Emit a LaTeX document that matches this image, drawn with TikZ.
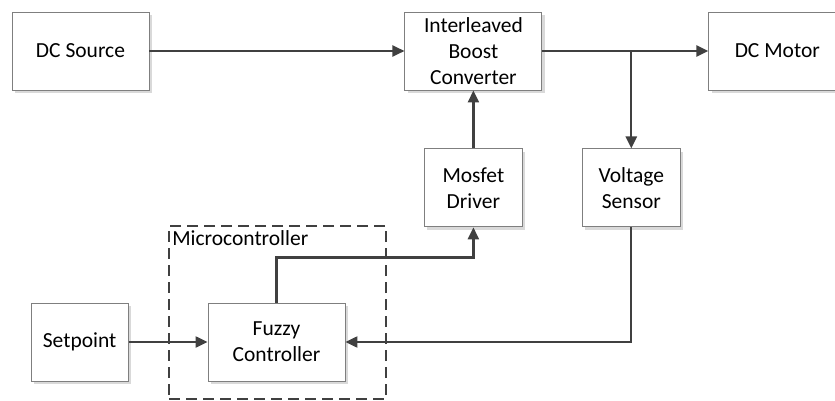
\documentclass[tikz,border=0pt]{standalone}
\usepackage{fontspec}
\setmainfont{Carlito}
\usepackage{tikz}
\usetikzlibrary{arrows.meta,positioning,calc,shadows}
\definecolor{boxline}{HTML}{7F7F7F}
\definecolor{wire}{HTML}{404040}
\definecolor{shade}{HTML}{D9D9D9}

\begin{document}
\begin{tikzpicture}[x=1pt,y=1pt,font=\fontsize{21.5}{26}\selectfont]
    \tikzstyle{blk}=[draw=boxline,line width=0.9pt,fill=white,minimum height=78pt,align=center,inner sep=0pt,
                     drop shadow={shadow xshift=3pt,shadow yshift=-3pt,fill=shade,opacity=1}]
    \tikzstyle{wide}=[blk,minimum width=137pt]
    \tikzstyle{narrow}=[blk,minimum width=98pt]
    \tikzstyle{sig}=[draw=wire,line width=2.3pt,-{Triangle[length=12pt,width=11pt]}]
    \useasboundingbox (0,0) rectangle (835,-401);
    \node[wide]                          (src) at (80.5,-51) {DC Source};
    \node[wide,right=255pt of src]       (ibc) {Interleaved\\Boost\\Converter};
    \node[wide,right=166pt of ibc]       (mot) {DC Motor};
    \node[narrow,below=58pt of ibc]      (drv) {Mosfet\\Driver};
    \node[narrow,right=59pt of drv]      (sns) {Voltage\\Sensor};
    \node[wide]                          (fuz) at (276.5,-342) {Fuzzy\\Controller};
    \node[blk,minimum width=97pt,left=79pt of fuz] (set) {Setpoint};
    % dashed microcontroller frame
    \node[draw=wire,line width=1.8pt,dash pattern=on 11pt off 6pt,minimum width=217pt,minimum height=173pt,inner sep=0pt]
         (mcu) at ([xshift=1pt,yshift=29.5pt]fuz) {};
    \node[anchor=north west,inner sep=0pt] (mcul) at ([xshift=4pt,yshift=-5pt]mcu.north west) {Microcontroller};
    \coordinate (tap) at (sns.north |- ibc.east);
    \draw[sig] (src) -- (ibc);
    \draw[sig] (ibc) -- (mot);
    \draw[sig] (tap) -- (sns);
    \draw[sig] (drv) -- (ibc);
    \draw[sig] (set) -- (fuz);
    \draw[sig] (fuz.north) |- ([yshift=-30pt]drv.south) -- (drv.south);
    \draw[sig] (sns.south) |- (fuz.east);
  \end{tikzpicture}
\end{document}
